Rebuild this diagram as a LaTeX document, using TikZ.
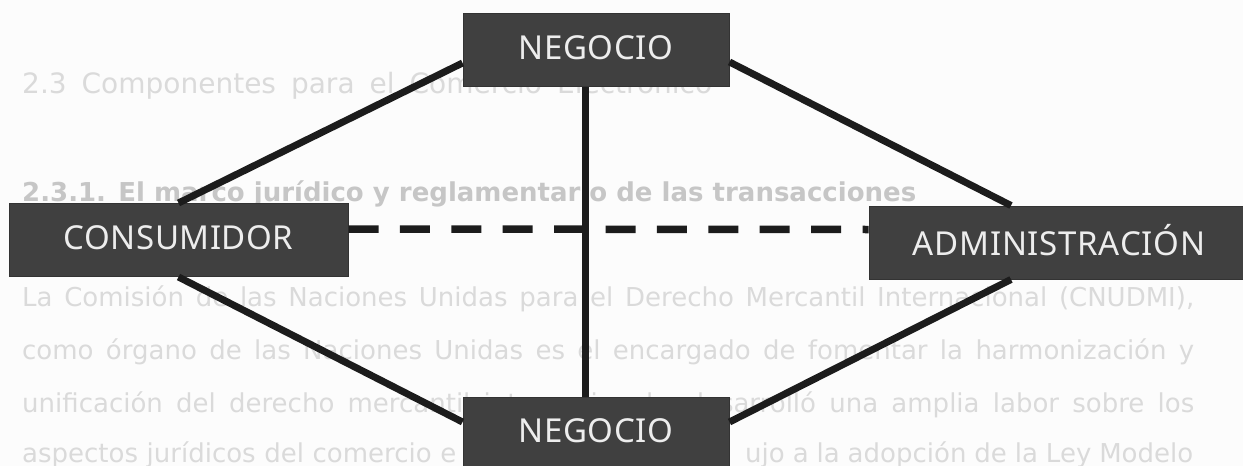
\documentclass[tikz,border=0pt]{standalone}
\usepackage{fontspec}
\setmainfont{Noto Sans}[LetterSpace=1.5]
\newfontfamily\ghostfont{DejaVu Sans}
\newfontfamily\adminfont{Noto Sans}[LetterSpace=2.2]
\definecolor{boxfill}{HTML}{404040}
\definecolor{boxtext}{HTML}{EDEDED}
\definecolor{linecol}{HTML}{1C1C1C}
\definecolor{ghostcol}{HTML}{DADADA}
\definecolor{ghostbold}{HTML}{C6C6C6}
\newcommand{\boxlabel}[1]{\raisebox{5pt}{#1}}
\tikzset{
  x=1pt,y=-1pt,
  boxnode/.style={fill=boxfill,draw=boxfill!80!black,line width=1pt,inner sep=0pt,text=boxtext,font=\fontsize{33}{36}\selectfont,minimum height=73pt},
  link/.style={draw=linecol,line width=7pt},
  dashlink/.style={draw=linecol,line width=7.5pt,dash pattern=on 30pt off 21.4pt},
  ghost/.style={anchor=base west,inner sep=0pt,text=ghostcol,font=\ghostfont\fontsize{26}{28}\selectfont},
  ghosthead/.style={ghost,text=ghostbold,font=\ghostfont\bfseries\fontsize{26}{28}\selectfont}
}
\begin{document}
\begin{tikzpicture}
\useasboundingbox (0,0) rectangle (1243,466);
\clip (0,0) rectangle (1243,466);
\fill[white!99!black] (0,0) rectangle (1243,466);
% faint text showing through the page
\node[ghost,font=\ghostfont\fontsize{28}{30}\selectfont] (g1) at (22,93) {\makebox[690pt][s]{2.3 Componentes para el Comercio Electrónico}};
\node[ghosthead] (g2) at (22,201) {\makebox[894pt][s]{2.3.1. El marco jurídico y reglamentario de las transacciones}};
\node[ghost] (g3) at (22,306) {\makebox[1172pt][s]{La Comisión de las Naciones Unidas para el Derecho Mercantil Internacional (CNUDMI),}};
\node[ghost] (g4) at (22,359) {\makebox[1172pt][s]{como órgano de las Naciones Unidas es el encargado de fomentar la harmonización y}};
\node[ghost] (g5) at (22,412) {\makebox[1172pt][s]{unificación del derecho mercantil internacional. desarrolló una amplia labor sobre los}};
\node[ghost] (g6) at (22,462) {\makebox[434pt][s]{aspectos jurídicos del comercio e}};
\node[ghost] (g7) at (745,462) {\makebox[448pt][s]{ujo a la adopción de la Ley Modelo}};
% boxes
\node[boxnode,minimum width=266pt] (negtop) at (596,50) {\boxlabel{NEGOCIO}};
\node[boxnode,minimum width=339pt] (cons) at (178.5,240) {\boxlabel{CONSUMIDOR}};
\node[boxnode,minimum width=374pt,font=\adminfont\fontsize{33}{36}\selectfont] (admin) at (1056,242.5) {\boxlabel{\hspace{6pt}ADMINISTRACIÓN}};
\node[boxnode,minimum width=266pt] (negbot) at (596,433.5) {\boxlabel{NEGOCIO}};
% connectors
\draw[link] (cons.north) -- ([yshift=-13pt]negtop.west);
\draw[link] (cons.south) -- ([yshift=11.5pt]negbot.west);
\draw[link] ([xshift=-45pt]admin.north) -- ([yshift=-12pt]negtop.east);
\draw[link] ([xshift=-45pt]admin.south) -- ([yshift=11.5pt]negbot.east);
\draw[link] ([xshift=-11pt]negtop.south) -- ([xshift=-11pt]negbot.north);
\draw[dashlink] ([yshift=11pt]cons.east) -- ([yshift=13pt]admin.west);
\end{tikzpicture}
\end{document}
